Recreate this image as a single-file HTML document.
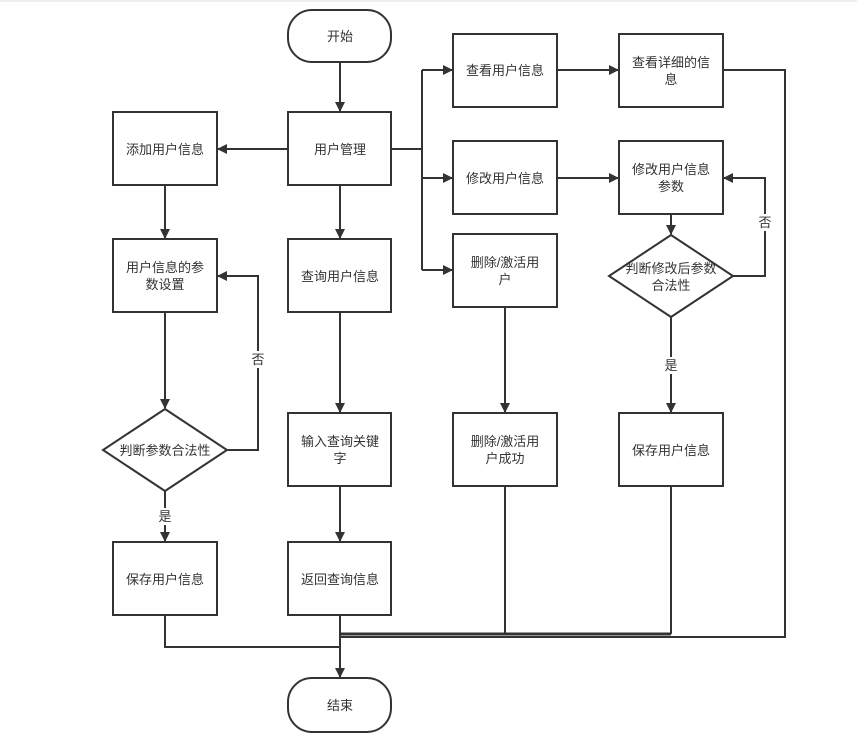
<!DOCTYPE html>
<html><head><meta charset="utf-8"><style>
html,body{margin:0;padding:0;background:#fff;}
svg{display:block;}
text{font-family:"Liberation Sans","Noto Sans CJK SC",sans-serif;font-size:13px;fill:#333;text-anchor:middle;}
</style></head><body>
<svg width="857" height="741" viewBox="0 0 857 741" xmlns="http://www.w3.org/2000/svg">
<defs><marker id="a" markerWidth="10" markerHeight="10" refX="9" refY="5" orient="auto" markerUnits="userSpaceOnUse"><path d="M0,0 L10,5 L0,10 z" fill="#333"/></marker></defs>
<rect x="0" y="0" width="857" height="2" fill="#eee"/>
<g fill="#fff" stroke="#333" stroke-width="2">
<rect x="288" y="10" width="103" height="52" rx="24"/>
<rect x="288" y="112" width="103" height="73"/>
<rect x="113" y="112" width="104" height="73"/>
<rect x="113" y="239" width="104" height="73"/>
<rect x="288" y="239" width="103" height="73"/>
<rect x="453" y="34" width="104" height="73"/>
<rect x="453" y="141" width="104" height="73"/>
<rect x="453" y="234" width="104" height="73"/>
<rect x="619" y="34" width="104" height="73"/>
<rect x="619" y="141" width="104" height="73"/>
<polygon points="671,235 733,276 671,317 609,276"/>
<polygon points="165,409 227,450 165,491 103,450"/>
<rect x="288" y="413" width="103" height="73"/>
<rect x="453" y="413" width="104" height="73"/>
<rect x="619" y="413" width="104" height="73"/>
<rect x="113" y="542" width="104" height="73"/>
<rect x="288" y="542" width="103" height="73"/>
<rect x="288" y="678" width="103" height="54" rx="24"/>
</g>
<g fill="none" stroke="#333" stroke-width="2">
<path d="M340,62 V111" marker-end="url(#a)"/>
<path d="M288,149 H218" marker-end="url(#a)"/>
<path d="M165,185 V238" marker-end="url(#a)"/>
<path d="M340,185 V238" marker-end="url(#a)"/>
<path d="M391,149 H422 M422,70 V270"/>
<path d="M422,70 H452" marker-end="url(#a)"/>
<path d="M422,178 H452" marker-end="url(#a)"/>
<path d="M422,270 H452" marker-end="url(#a)"/>
<path d="M557,70 H618" marker-end="url(#a)"/>
<path d="M557,178 H618" marker-end="url(#a)"/>
<path d="M671,214 V234" marker-end="url(#a)"/>
<path d="M733,276 H765 V178 H724" marker-end="url(#a)"/>
<path d="M671,317 V412" marker-end="url(#a)"/>
<path d="M505,307 V412" marker-end="url(#a)"/>
<path d="M340,312 V412" marker-end="url(#a)"/>
<path d="M165,312 V408" marker-end="url(#a)"/>
<path d="M227,450 H258 V276 H218" marker-end="url(#a)"/>
<path d="M165,491 V541" marker-end="url(#a)"/>
<path d="M340,486 V541" marker-end="url(#a)"/>
<path d="M723,70 H785 V637 H340"/>
<path d="M505,486 V634 M671,486 V634"/>
<path d="M340,634 H671" stroke-width="3"/>
<path d="M165,615 V647 H340"/>
<path d="M340,615 V677" marker-end="url(#a)"/>
</g>
<rect x="252" y="351" width="13" height="17" fill="#fff"/>
<rect x="158" y="508" width="14" height="17" fill="#fff"/>
<rect x="664" y="357" width="14" height="17" fill="#fff"/>
<rect x="758" y="214" width="14" height="17" fill="#fff"/>
<text x="340" y="41">开始</text>
<text x="340" y="154">用户管理</text>
<text x="165" y="154">添加用户信息</text>
<text x="165" y="272">用户信息的参</text><text x="165" y="289">数设置</text>
<text x="340" y="281">查询用户信息</text>
<text x="505" y="75">查看用户信息</text>
<text x="505" y="183">修改用户信息</text>
<text x="505" y="267">删除/激活用</text><text x="505" y="284">户</text>
<text x="671" y="67">查看详细的信</text><text x="671" y="84">息</text>
<text x="671" y="174">修改用户信息</text><text x="671" y="191">参数</text>
<text x="671" y="273">判断修改后参数</text><text x="671" y="290">合法性</text>
<text x="165" y="455">判断参数合法性</text>
<text x="340" y="446">输入查询关键</text><text x="340" y="463">字</text>
<text x="505" y="446">删除/激活用</text><text x="505" y="463">户成功</text>
<text x="671" y="455">保存用户信息</text>
<text x="165" y="584">保存用户信息</text>
<text x="340" y="584">返回查询信息</text>
<text x="340" y="710">结束</text>
<text x="258" y="364">否</text>
<text x="165" y="521">是</text>
<text x="671" y="370">是</text>
<text x="765" y="227">否</text>
</svg>
</body></html>
